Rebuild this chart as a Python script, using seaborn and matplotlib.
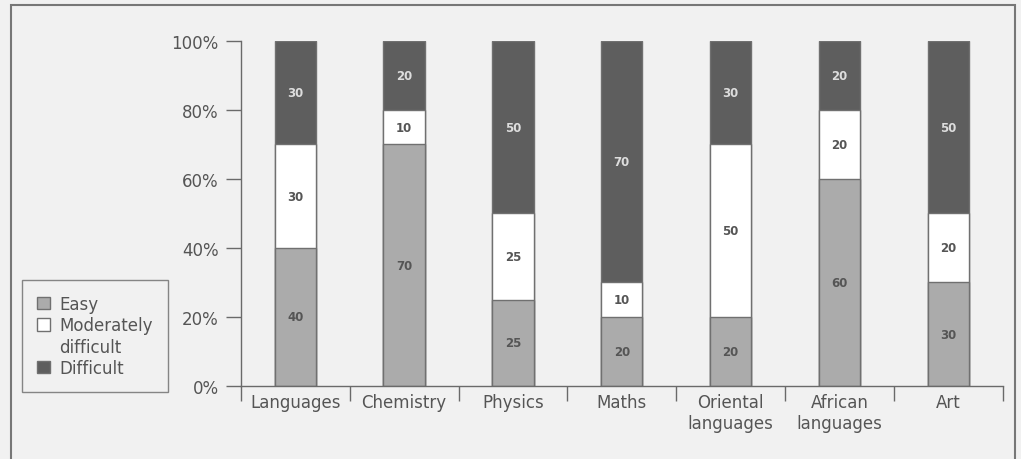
import matplotlib
matplotlib.use("Agg")
import matplotlib.pyplot as plt
import seaborn as sns
import pandas as pd
import numpy as np
from matplotlib.patches import Rectangle, Patch

subjects = ["Languages", "Chemistry", "Physics", "Maths",
            "Oriental\nlanguages", "African\nlanguages", "Art"]
easy = [40, 70, 25, 20, 20, 60, 30]
moderate = [30, 10, 25, 10, 50, 20, 20]
difficult = [30, 20, 50, 70, 30, 20, 50]

BG = "#f1f1f1"
INK = "#555555"
LINE = "#6a6a6a"
C_EASY = "#ababab"
C_MOD = "#ffffff"
C_DIFF = "#5e5e5e"

sns.set_style("white")
plt.rcParams["font.family"] = ["DejaVu Sans"]

df = pd.DataFrame({"subject": subjects, "easy": easy,
                   "moderate": moderate, "difficult": difficult})
df["top_mod"] = df["easy"] + df["moderate"]
df["top_all"] = df["top_mod"] + df["difficult"]

fig = plt.figure(figsize=(10.21, 4.6), dpi=100, facecolor=BG)
ax = fig.add_axes([0.236, 0.1587, 0.746, 0.75])
ax.set_facecolor(BG)

# stacked bars drawn back to front (cumulative heights)
for col, colour in [("top_all", C_DIFF), ("top_mod", C_MOD), ("easy", C_EASY)]:
    sns.barplot(data=df, x="subject", y=col, color=colour, width=0.38,
                edgecolor="#707070", linewidth=1.0, saturation=1, ax=ax)

for i, row in df.iterrows():
    ax.text(i, row["easy"] / 2, f"{row['easy']}", ha="center", va="center",
            fontsize=8.5, color=INK, fontweight="bold")
    ax.text(i, row["easy"] + row["moderate"] / 2, f"{row['moderate']}",
            ha="center", va="center", fontsize=8.5, color=INK, fontweight="bold")
    ax.text(i, row["top_mod"] + row["difficult"] / 2, f"{row['difficult']}",
            ha="center", va="center", fontsize=8.5, color="#dddddd", fontweight="bold")

ax.set_xlim(-0.5, len(subjects) - 0.5)
ax.set_ylim(0, 100)
ax.set_yticks([0, 20, 40, 60, 80, 100])
ax.set_yticklabels([f"{v}%" for v in [0, 20, 40, 60, 80, 100]])
ax.set_xlabel("")
ax.set_ylabel("")

ax.set_xticks(np.arange(len(subjects)))
ax.set_xticklabels(subjects)
ax.set_xticks(np.arange(len(subjects) + 1) - 0.5, minor=True)
ax.tick_params(axis="x", which="major", bottom=True, length=0, pad=5,
               labelsize=12, labelcolor=INK)
ax.tick_params(axis="x", which="minor", bottom=True, length=11, width=1,
               color=LINE, direction="out")
ax.tick_params(axis="y", left=True, length=11, width=1, color=LINE, labelsize=12,
               labelcolor=INK, pad=5, direction="out")

for side in ["top", "right"]:
    ax.spines[side].set_visible(False)
for side in ["left", "bottom"]:
    ax.spines[side].set_color(LINE)
    ax.spines[side].set_linewidth(1)

blank = Patch(facecolor="none", edgecolor="none", label="difficult")
handles = [Patch(facecolor=C_EASY, edgecolor="#707070", label="Easy"),
           Patch(facecolor=C_MOD, edgecolor="#707070", label="Moderately"),
           blank,
           Patch(facecolor=C_DIFF, edgecolor="#707070", label="Difficult")]
leg = fig.legend(handles=handles, loc="lower left",
                 bbox_to_anchor=(22 / 1021, 1 - 393 / 460), frameon=True,
                 fancybox=False, edgecolor=LINE, facecolor=BG, fontsize=12,
                 handlelength=0.75, handleheight=0.75, handletextpad=0.6,
                 labelspacing=0.2, borderpad=0.9, borderaxespad=0, labelcolor=INK)
leg.get_frame().set_linewidth(1)

# outer frame of the figure (bottom edge runs off the image)
fig.patches.append(Rectangle((11 / 1021, -0.05), (1015 - 11) / 1021, 1.05 - 6 / 460,
                             transform=fig.transFigure, fill=False,
                             edgecolor="#777777", linewidth=1.5))

fig.savefig("out.png", dpi=100, facecolor=BG)
